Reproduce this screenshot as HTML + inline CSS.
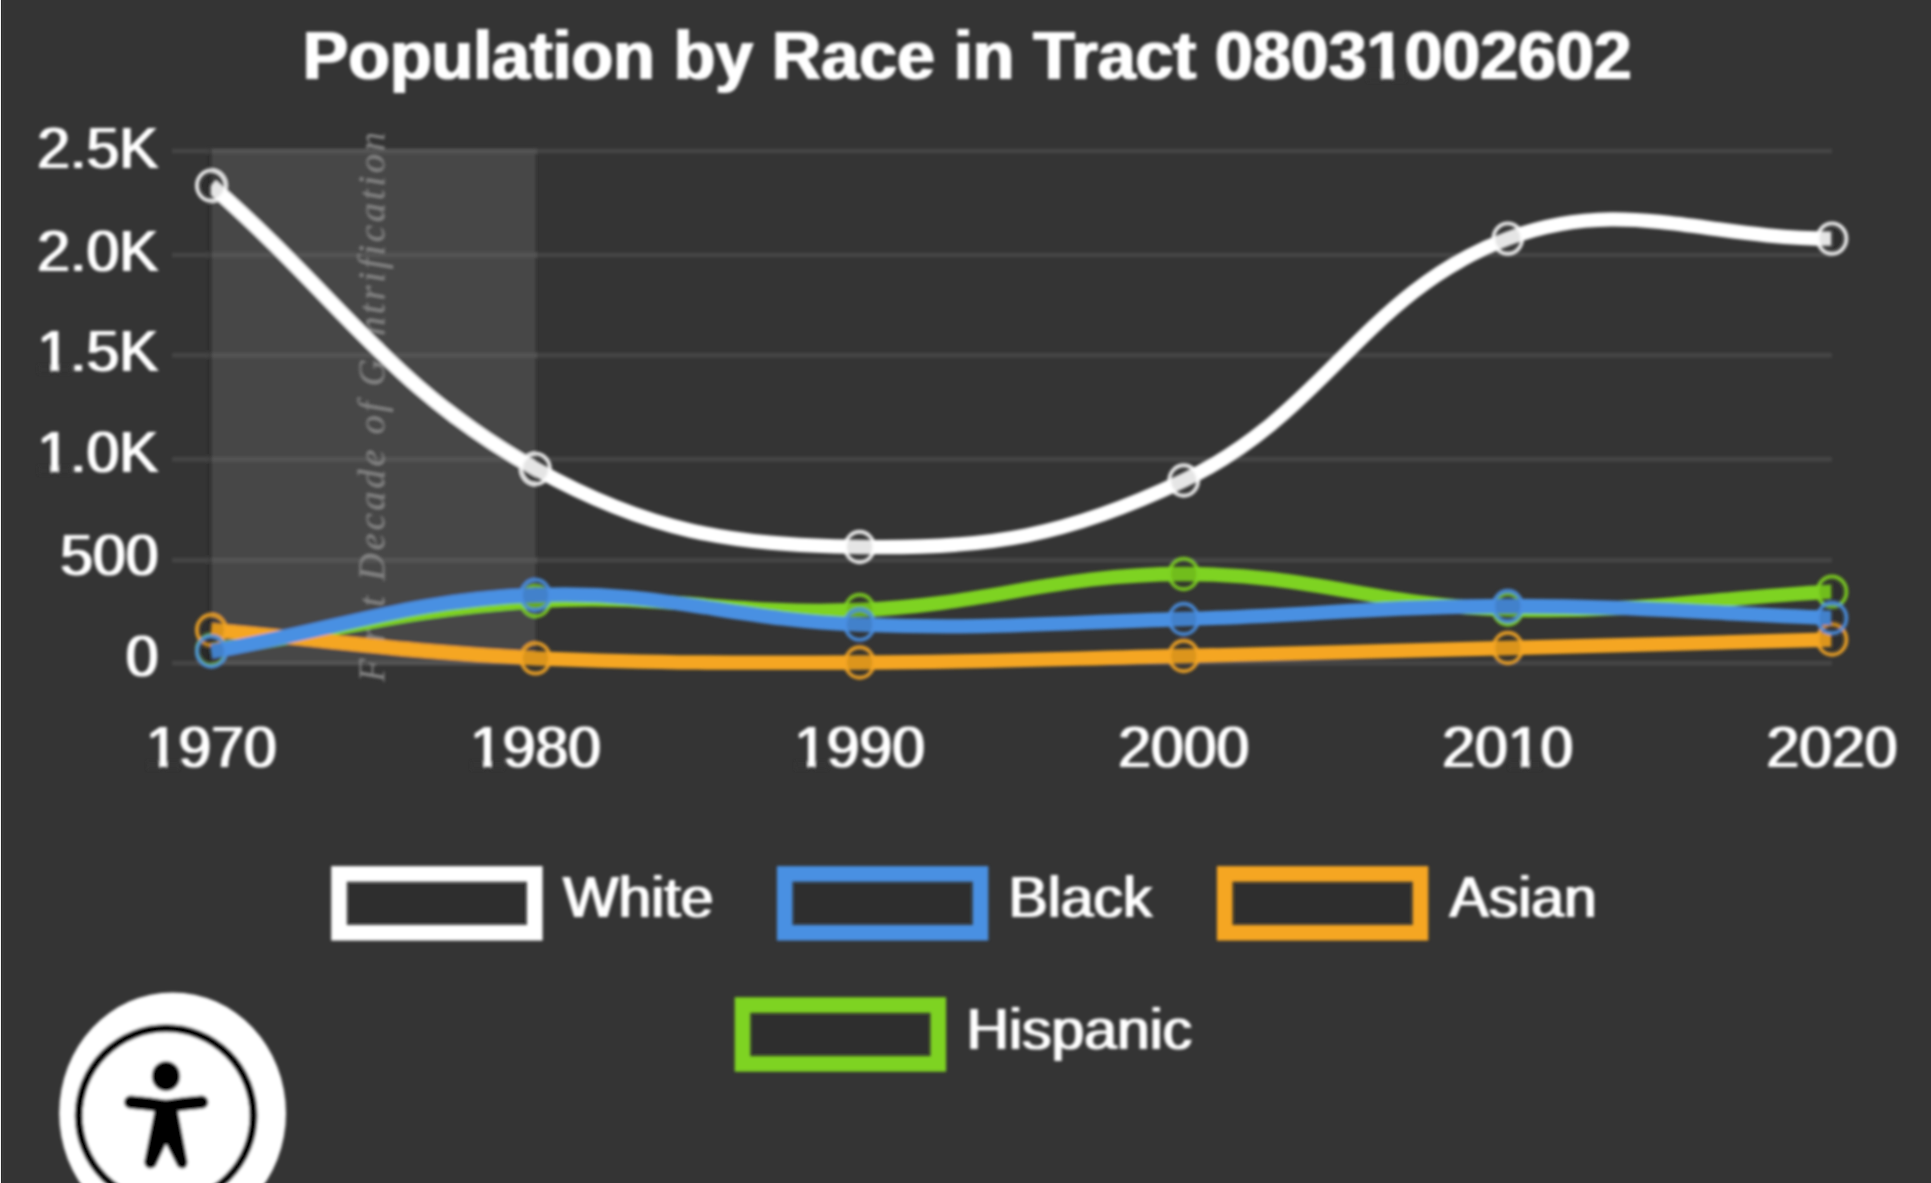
<!DOCTYPE html>
<html><head><meta charset="utf-8"><title>Population by Race in Tract 08031002602</title>
<style>
html,body{margin:0;padding:0;background:#343434;}
body{width:1931px;height:1183px;overflow:hidden;position:relative;font-family:"Liberation Sans",sans-serif;}
svg{position:absolute;left:0;top:0;display:block;}
text{font-family:"Liberation Sans",sans-serif;fill:#fff;}
.lbl{font-size:56.8px;}
.title{font-size:68px;font-weight:bold;}
.ann{font-family:"Liberation Serif",serif;font-style:italic;font-size:38px;fill:#848484;}
</style></head><body>
<svg width="1931" height="1183" viewBox="0 0 1931 1183">
<defs>
<clipPath id="area"><rect x="210.8" y="0" width="1620.4" height="1183"/></clipPath>
<filter id="hb" x="-5%" y="-20%" width="110%" height="140%"><feMorphology operator="dilate" radius="1 0"/></filter>
<filter id="soft" x="-5%" y="-5%" width="110%" height="110%"><feGaussianBlur stdDeviation="1.4"/></filter>
</defs>
<rect width="1931" height="1183" fill="#343434"/>
<g filter="url(#soft)">

<rect x="211.3" y="148.6" width="324.2" height="515.7" fill="#464646"/>
<rect x="172" y="148.6" width="1660.0" height="4.8" fill="#fff" fill-opacity="0.085"/>
<rect x="172" y="252.6" width="1660.0" height="4.8" fill="#fff" fill-opacity="0.085"/>
<rect x="172" y="352.9" width="1660.0" height="4.8" fill="#fff" fill-opacity="0.085"/>
<rect x="172" y="456.9" width="1660.0" height="4.8" fill="#fff" fill-opacity="0.085"/>
<rect x="172" y="557.8" width="1660.0" height="4.8" fill="#fff" fill-opacity="0.085"/>
<rect x="172" y="660.8" width="1660.0" height="4.8" fill="#fff" fill-opacity="0.085"/>
<rect x="207.6" y="148.6" width="4.4" height="517.0" fill="#000" fill-opacity="0.12"/>
<text class="ann" transform="translate(384.5,682) rotate(-90)" textLength="550" lengthAdjust="spacing">First Decade of Gentrification</text>
<g transform="translate(967.3,79.3) scale(1.0020,1)"><text filter="url(#hb)" class="title" text-anchor="middle">Population by Race in Tract 08031002602</text><rect x="399.65" y="-8.54" width="13.79" height="10.94" fill="#343434"/><rect x="424.77" y="-8.54" width="12.92" height="10.94" fill="#343434"/></g>
<g transform="translate(158.4,167.6) scale(1.0360,1)"><text filter="url(#hb)" class="lbl" text-anchor="end">2.5K</text></g>
<g transform="translate(158.4,271.2) scale(1.0360,1)"><text filter="url(#hb)" class="lbl" text-anchor="end">2.0K</text></g>
<g transform="translate(158.4,371.0) scale(1.0360,1)"><text filter="url(#hb)" class="lbl" text-anchor="end">1.5K</text><rect x="-115.72" y="-5.84" width="12.16" height="8.24" fill="#343434"/><rect x="-96.54" y="-5.84" width="11.71" height="8.24" fill="#343434"/></g>
<g transform="translate(158.4,472.0) scale(1.0360,1)"><text filter="url(#hb)" class="lbl" text-anchor="end">1.0K</text><rect x="-115.72" y="-5.84" width="12.16" height="8.24" fill="#343434"/><rect x="-96.54" y="-5.84" width="11.71" height="8.24" fill="#343434"/></g>
<g transform="translate(158.4,574.9) scale(1.0360,1)"><text filter="url(#hb)" class="lbl" text-anchor="end">500</text></g>
<g transform="translate(158.4,676.2) scale(1.0360,1)"><text filter="url(#hb)" class="lbl" text-anchor="end">0</text></g>
<g transform="translate(211.3,767.4) scale(1.0360,1)"><text filter="url(#hb)" class="lbl" text-anchor="middle">1970</text><rect x="-62.05" y="-5.84" width="12.16" height="8.24" fill="#343434"/><rect x="-42.88" y="-5.84" width="11.71" height="8.24" fill="#343434"/></g>
<g transform="translate(535.5,767.4) scale(1.0360,1)"><text filter="url(#hb)" class="lbl" text-anchor="middle">1980</text><rect x="-62.05" y="-5.84" width="12.16" height="8.24" fill="#343434"/><rect x="-42.88" y="-5.84" width="11.71" height="8.24" fill="#343434"/></g>
<g transform="translate(859.6,767.4) scale(1.0360,1)"><text filter="url(#hb)" class="lbl" text-anchor="middle">1990</text><rect x="-62.05" y="-5.84" width="12.16" height="8.24" fill="#343434"/><rect x="-42.88" y="-5.84" width="11.71" height="8.24" fill="#343434"/></g>
<g transform="translate(1183.7,767.4) scale(1.0360,1)"><text filter="url(#hb)" class="lbl" text-anchor="middle">2000</text></g>
<g transform="translate(1507.8,767.4) scale(1.0360,1)"><text filter="url(#hb)" class="lbl" text-anchor="middle">2010</text><rect x="1.12" y="-5.84" width="12.16" height="8.24" fill="#343434"/><rect x="20.30" y="-5.84" width="11.71" height="8.24" fill="#343434"/></g>
<g transform="translate(1832.0,767.4) scale(1.0360,1)"><text filter="url(#hb)" class="lbl" text-anchor="middle">2020</text></g>
<path d="M211.3,650.0 C341.0,630.4 405.1,609.0 535.5,601.0 C664.4,593.0 730.3,615.4 859.6,610.0 C989.6,604.6 1054.0,574.1 1183.7,574.0 C1313.3,573.9 1377.9,606.0 1507.8,609.5 C1637.2,613.0 1702.3,598.8 1832.0,591.7" fill="none" stroke="#7ed321" stroke-width="14.3" stroke-linejoin="round" clip-path="url(#area)"/>
<ellipse cx="211.3" cy="650.0" rx="14.4" ry="15.200000000000001" fill="#000" fill-opacity="0.1" stroke="#7ed321" stroke-opacity="0.88" stroke-width="3.9"/>
<ellipse cx="535.5" cy="601.0" rx="14.4" ry="15.200000000000001" fill="#000" fill-opacity="0.1" stroke="#7ed321" stroke-opacity="0.88" stroke-width="3.9"/>
<ellipse cx="859.6" cy="610.0" rx="14.4" ry="15.200000000000001" fill="#000" fill-opacity="0.1" stroke="#7ed321" stroke-opacity="0.88" stroke-width="3.9"/>
<ellipse cx="1183.7" cy="574.0" rx="14.4" ry="15.200000000000001" fill="#000" fill-opacity="0.1" stroke="#7ed321" stroke-opacity="0.88" stroke-width="3.9"/>
<ellipse cx="1507.8" cy="609.5" rx="14.4" ry="15.200000000000001" fill="#000" fill-opacity="0.1" stroke="#7ed321" stroke-opacity="0.88" stroke-width="3.9"/>
<ellipse cx="1832.0" cy="591.7" rx="14.4" ry="15.200000000000001" fill="#000" fill-opacity="0.1" stroke="#7ed321" stroke-opacity="0.88" stroke-width="3.9"/>
<path d="M211.3,630.0 C341.0,641.3 405.6,651.8 535.5,658.3 C664.9,663.2 730.0,663.0 859.6,662.5 C989.2,662.0 1054.1,658.9 1183.7,656.0 C1313.3,653.1 1378.2,651.3 1507.8,648.0 C1637.5,644.7 1702.3,642.9 1832.0,639.5" fill="none" stroke="#f5a623" stroke-width="14.3" stroke-linejoin="round" clip-path="url(#area)"/>
<ellipse cx="211.3" cy="630.0" rx="14.4" ry="15.200000000000001" fill="#000" fill-opacity="0.1" stroke="#f5a623" stroke-opacity="0.88" stroke-width="3.9"/>
<ellipse cx="535.5" cy="658.3" rx="14.4" ry="15.200000000000001" fill="#000" fill-opacity="0.1" stroke="#f5a623" stroke-opacity="0.88" stroke-width="3.9"/>
<ellipse cx="859.6" cy="662.5" rx="14.4" ry="15.200000000000001" fill="#000" fill-opacity="0.1" stroke="#f5a623" stroke-opacity="0.88" stroke-width="3.9"/>
<ellipse cx="1183.7" cy="656.0" rx="14.4" ry="15.200000000000001" fill="#000" fill-opacity="0.1" stroke="#f5a623" stroke-opacity="0.88" stroke-width="3.9"/>
<ellipse cx="1507.8" cy="648.0" rx="14.4" ry="15.200000000000001" fill="#000" fill-opacity="0.1" stroke="#f5a623" stroke-opacity="0.88" stroke-width="3.9"/>
<ellipse cx="1832.0" cy="639.5" rx="14.4" ry="15.200000000000001" fill="#000" fill-opacity="0.1" stroke="#f5a623" stroke-opacity="0.88" stroke-width="3.9"/>
<path d="M211.3,651.5 C341.0,628.9 405.1,600.4 535.5,595.0 C664.4,589.7 729.7,619.9 859.6,624.7 C989.0,629.5 1054.1,622.7 1183.7,619.0 C1313.4,615.3 1378.2,606.2 1507.8,606.0 C1637.5,605.8 1702.3,613.2 1832.0,618.0" fill="none" stroke="#4a90e2" stroke-width="14.3" stroke-linejoin="round" clip-path="url(#area)"/>
<ellipse cx="211.3" cy="651.5" rx="14.4" ry="15.200000000000001" fill="#000" fill-opacity="0.1" stroke="#4a90e2" stroke-opacity="0.88" stroke-width="3.9"/>
<ellipse cx="535.5" cy="595.0" rx="14.4" ry="15.200000000000001" fill="#000" fill-opacity="0.1" stroke="#4a90e2" stroke-opacity="0.88" stroke-width="3.9"/>
<ellipse cx="859.6" cy="624.7" rx="14.4" ry="15.200000000000001" fill="#000" fill-opacity="0.1" stroke="#4a90e2" stroke-opacity="0.88" stroke-width="3.9"/>
<ellipse cx="1183.7" cy="619.0" rx="14.4" ry="15.200000000000001" fill="#000" fill-opacity="0.1" stroke="#4a90e2" stroke-opacity="0.88" stroke-width="3.9"/>
<ellipse cx="1507.8" cy="606.0" rx="14.4" ry="15.200000000000001" fill="#000" fill-opacity="0.1" stroke="#4a90e2" stroke-opacity="0.88" stroke-width="3.9"/>
<ellipse cx="1832.0" cy="618.0" rx="14.4" ry="15.200000000000001" fill="#000" fill-opacity="0.1" stroke="#4a90e2" stroke-opacity="0.88" stroke-width="3.9"/>
<path d="M211.3,185.6 C341.0,298.9 389.4,387.3 535.5,468.8 C648.7,531.9 729.5,544.7 859.6,547.0 C988.7,549.3 1067.0,536.0 1183.7,480.5 C1326.3,412.6 1363.9,292.3 1507.8,238.6 C1623.2,195.5 1702.3,238.6 1832.0,238.6" fill="none" stroke="#ffffff" stroke-width="14.3" stroke-linejoin="round" clip-path="url(#area)"/>
<ellipse cx="211.3" cy="185.6" rx="14.4" ry="15.200000000000001" fill="#000" fill-opacity="0.1" stroke="#ffffff" stroke-opacity="0.88" stroke-width="3.9"/>
<ellipse cx="535.5" cy="468.8" rx="14.4" ry="15.200000000000001" fill="#000" fill-opacity="0.1" stroke="#ffffff" stroke-opacity="0.88" stroke-width="3.9"/>
<ellipse cx="859.6" cy="547.0" rx="14.4" ry="15.200000000000001" fill="#000" fill-opacity="0.1" stroke="#ffffff" stroke-opacity="0.88" stroke-width="3.9"/>
<ellipse cx="1183.7" cy="480.5" rx="14.4" ry="15.200000000000001" fill="#000" fill-opacity="0.1" stroke="#ffffff" stroke-opacity="0.88" stroke-width="3.9"/>
<ellipse cx="1507.8" cy="238.6" rx="14.4" ry="15.200000000000001" fill="#000" fill-opacity="0.1" stroke="#ffffff" stroke-opacity="0.88" stroke-width="3.9"/>
<ellipse cx="1832.0" cy="238.6" rx="14.4" ry="15.200000000000001" fill="#000" fill-opacity="0.1" stroke="#ffffff" stroke-opacity="0.88" stroke-width="3.9"/>
<rect x="339.0" y="873.9" width="195.8" height="58.9" fill="#000" fill-opacity="0.1" stroke="#ffffff" stroke-width="15.6"/>
<g transform="translate(563,916.8) scale(1.0360,1)"><text filter="url(#hb)" class="lbl">White</text></g>
<rect x="784.7" y="873.9" width="195.8" height="58.9" fill="#000" fill-opacity="0.1" stroke="#4a90e2" stroke-width="15.6"/>
<g transform="translate(1008.5,916.8) scale(1.0360,1)"><text filter="url(#hb)" class="lbl">Black</text></g>
<rect x="1224.7" y="873.9" width="195.8" height="58.9" fill="#000" fill-opacity="0.1" stroke="#f5a623" stroke-width="15.6"/>
<g transform="translate(1449.5,916.8) scale(1.0360,1)"><text filter="url(#hb)" class="lbl">Asian</text></g>
<rect x="742.5" y="1005.0" width="195.8" height="58.9" fill="#000" fill-opacity="0.1" stroke="#7ed321" stroke-width="15.6"/>
<g transform="translate(966.5,1049.3) scale(1.0360,1)"><text filter="url(#hb)" class="lbl">Hispanic</text></g>
<g>
<ellipse cx="172.6" cy="1113.2" rx="113.4" ry="120.8" fill="#fff"/>
<circle cx="166.1" cy="1115.7" r="87.4" fill="none" stroke="#000" stroke-width="8"/>
<ellipse cx="166" cy="1076.2" rx="14.2" ry="15" fill="#000"/>
<path d="M130.6,1102.2 Q148,1103.4 166,1106.6 Q184,1103.4 201.8,1102.2" fill="none" stroke="#000" stroke-width="13.2" stroke-linecap="round" stroke-linejoin="round"/>
<path d="M157.4,1101 L175,1101 L186.6,1161.6 Q186.4,1167 182.6,1167.4 Q178.8,1167.4 177.6,1164.6 L166,1141.6 L155.4,1164.6 Q153.6,1167.4 149.8,1167.4 Q145.4,1166.6 145.2,1161.6 Z" fill="#000" stroke="#000" stroke-width="2" stroke-linejoin="round"/>
</g>
</g><rect x="0" y="0" width="1" height="1183" fill="#f2f2f2"/><rect x="1" y="0" width="1" height="1183" fill="#272727"/><rect x="2" y="0" width="1.5" height="1183" fill="#3a3a3a"/></svg></body></html>
